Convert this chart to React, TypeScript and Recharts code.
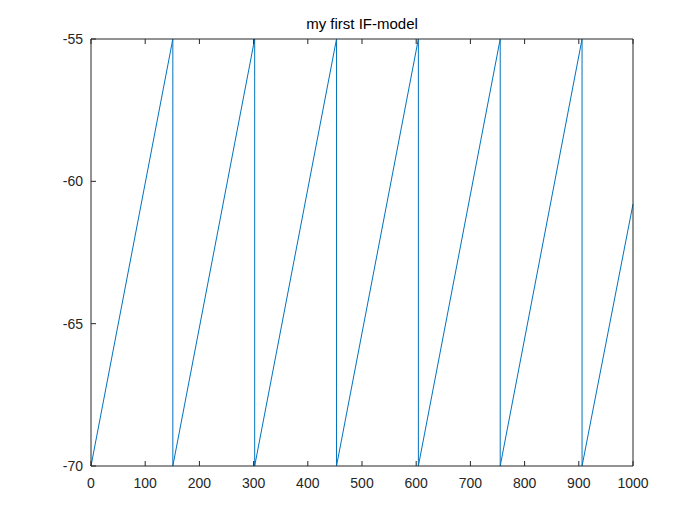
import { LineChart, Line, XAxis, YAxis } from 'recharts';

// membrane potential: ramps from reset to threshold, then drops back
const timeMs = [0, 151, 151, 302, 302, 453, 453, 604, 604, 755, 755, 906, 906, 1000];
const voltage = [-70, -55, -70, -55, -70, -55, -70, -55, -70, -55, -70, -55, -70, -60.8];
const xTicks = [0, 100, 200, 300, 400, 500, 600, 700, 800, 900, 1000];
const yTicks = [-70, -65, -60, -55];

const data = timeMs.map((t, i) => ({ t, v: voltage[i] }));

const L = 91, R = 633, T = 39, B = 466;
const font = '"Liberation Sans", Arial, sans-serif';

const XTick = (props: any) => {
    const { x, payload, top } = props;
    if (top) return <line x1={x} x2={x} y1={T} y2={T + 5} stroke="#262626" />;
    return (
        <g>
            <line x1={x} x2={x} y1={B} y2={B - 5} stroke="#262626" />
            <text x={x} y={B + 22} textAnchor="middle" fontSize={14} fill="#262626" fontFamily={font}>
                {payload.value}
            </text>
        </g>
    );
};

const YTick = (props: any) => {
    const { y, payload, right } = props;
    if (right) return <line x1={R} x2={R - 5} y1={y} y2={y} stroke="#262626" />;
    return (
        <g>
            <line x1={L} x2={L + 5} y1={y} y2={y} stroke="#262626" />
            <text x={L - 8} y={y + 5} textAnchor="end" fontSize={14} fill="#262626" fontFamily={font}>
                {payload.value}
            </text>
        </g>
    );
};

export default function App() {
    return (
        <div style={{ position: 'absolute', left: 0, top: 0, width: 700, height: 525, background: '#fff' }}>
            <svg style={{ position: 'absolute', left: 0, top: 0 }} width={700} height={40}>
                <text x={362} y={29} textAnchor="middle" fontSize={15} fill="#000" fontFamily={font}>
                    my first IF-model
                </text>
            </svg>
            <LineChart
                width={700}
                height={525}
                data={data}
                margin={{ top: T - 10, right: 700 - R - 10, bottom: 525 - B - 30, left: L - 40 }}
            >
                <XAxis xAxisId="b" dataKey="t" type="number" domain={[0, 1000]} ticks={xTicks}
                    height={30} tickLine={false} axisLine={{ stroke: '#262626' }} tick={<XTick />} interval={0} />
                <XAxis xAxisId="t" orientation="top" dataKey="t" type="number" domain={[0, 1000]} ticks={xTicks}
                    height={10} tickLine={false} axisLine={{ stroke: '#262626' }} tick={<XTick top />} interval={0} />
                <YAxis yAxisId="l" type="number" domain={[-70, -55]} ticks={yTicks}
                    width={40} tickLine={false} axisLine={{ stroke: '#262626' }} tick={<YTick />} interval={0} />
                <YAxis yAxisId="r" orientation="right" type="number" domain={[-70, -55]} ticks={yTicks}
                    width={10} tickLine={false} axisLine={{ stroke: '#262626' }} tick={<YTick right />} interval={0} />
                <Line xAxisId="b" yAxisId="l" dataKey="v" type="linear" stroke="#0072BD" strokeWidth={1}
                    dot={false} isAnimationActive={false} />
            </LineChart>
        </div>
    );
}
